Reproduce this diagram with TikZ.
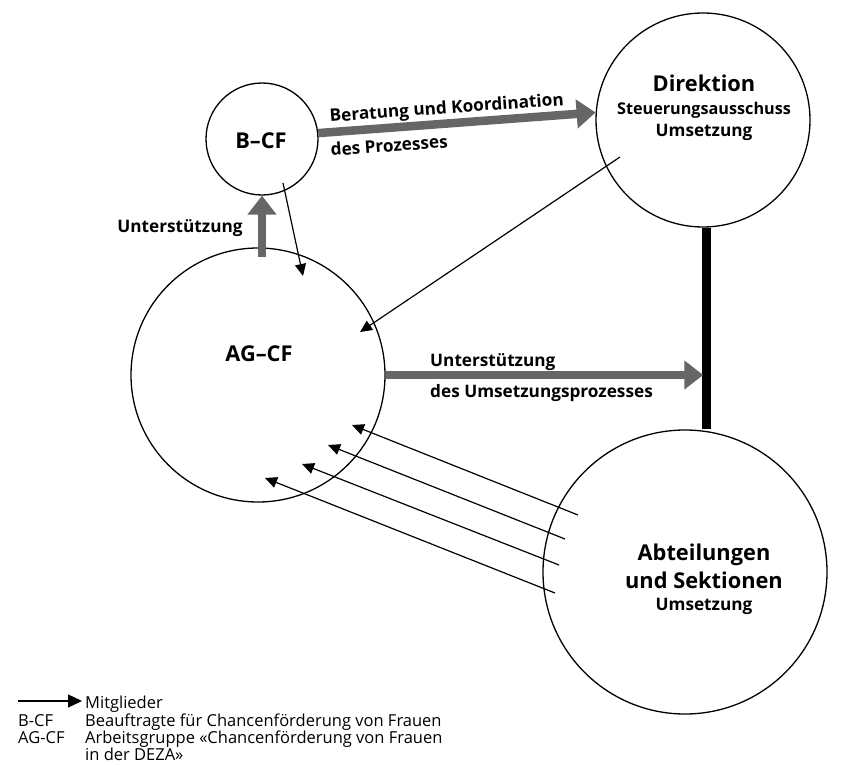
\documentclass[tikz,border=0pt]{standalone}
\usepackage{fontspec}
\setmainfont{Open Sans}
\usetikzlibrary{arrows.meta,calc}
\definecolor{arrgray}{RGB}{102,102,102}
\tikzset{
  circ/.style={circle,draw,line width=1.3pt,inner sep=0pt,minimum size=#1},
  biglbl/.style={font=\fontsize{21.8}{26}\selectfont\bfseries,inner sep=0pt,anchor=base},
  lbl/.style={font=\fontsize{17.2}{20}\selectfont\bfseries,inner sep=0pt,anchor=base},
  leg/.style={font=\fontsize{16.5}{18}\selectfont,inner sep=0pt,anchor=base west},
  grayarrow/.style={draw=arrgray,line width=8.5pt,-{Triangle[length=19pt,width=28pt]}},
  memb/.style={draw,line width=1.2pt,-{Triangle[length=12pt,width=11pt]}},
}
\begin{document}
\begin{tikzpicture}[x=1pt,y=-1pt]
\useasboundingbox (0,0) rectangle (864,765);
% circles
\node[circ=112pt] (bcf) at (262,139) {};
\node[circ=214pt] (dir) at (703,120) {};
\node[circ=254pt] (agcf) at (258,375) {};
\node[circ=284pt] (abt) at (685,572) {};
% texts in circles
\node[biglbl] (tbcf) at (261,148) {B–CF};
\node[biglbl] (tdir) at (704,92) {Direktion};
\node[lbl,font=\fontsize{16.2}{19}\selectfont\bfseries] (tdir2) at (704,114) {Steuerungsausschuss};
\node[lbl] (tdir3) at (704,136) {Umsetzung};
\node[biglbl] (tagcf) at (259,361) {AG–CF};
\node[biglbl] (tabt1) at (704,560) {Abteilungen};
\node[biglbl] (tabt2) at (704,588) {und Sektionen};
\node[lbl] (tabt3) at (704,610) {Umsetzung};
% thick black connection
\coordinate (vtop) at (dir.-88);
\coordinate (vbot) at (vtop |- abt.north);
\draw[line width=9pt] (vtop) -- (vbot);
% gray arrows
\coordinate (gstart) at ($(agcf.center)+(4,-118)$);
\draw[grayarrow] (gstart) -- (bcf.south);
\draw[grayarrow] (bcf.6) -- (dir.176);
\coordinate (hit) at ($(vtop |- agcf.east)+(-3.5,0)$);
\draw[grayarrow] (agcf.east) -- (hit);
% labels of gray arrows
\node[lbl,anchor=base west,rotate=4.1] (tber) at (330,122) {Beratung und Koordination};
\node[lbl,anchor=base west,rotate=4.1] (tpro) at (331,156) {des Prozesses};
\node[lbl] (tunt1) at (180,232) {Unterstützung};
\node[lbl,anchor=base west] (tunt2) at (430,366) {Unterstützung};
\node[lbl,anchor=base west] (tums) at (430,397) {des Umsetzungsprozesses};
% member arrows
\coordinate (m1s) at (283,183);  \coordinate (m1e) at (303,276);
\coordinate (m2s) at (620,157);  \coordinate (m2e) at (360,332);
\coordinate (a1s) at (578,515);  \coordinate (a1e) at (352,425);
\coordinate (a2s) at (565,539);  \coordinate (a2e) at (328,445);
\coordinate (a3s) at (559,565);  \coordinate (a3e) at (302,464);
\coordinate (a4s) at (555,593);  \coordinate (a4e) at (265,478);
\draw[memb] (m1s) -- (m1e);
\draw[memb] (m2s) -- (m2e);
\draw[memb] (a1s) -- (a1e);
\draw[memb] (a2s) -- (a2e);
\draw[memb] (a3s) -- (a3e);
\draw[memb] (a4s) -- (a4e);
% legend
\coordinate (lga) at (18,701);
\coordinate (lgb) at (82,701);
\draw[line width=1.3pt,-{Triangle[length=14pt,width=13pt]}] (lga) -- (lgb);
\node[leg] (lmit) at (85,708) {Mitglieder};
\node[leg] (lb) at (18,726) {B-CF};
\node[leg] (lbt) at (85,726) {Beauftragte für Chancenförderung von Frauen};
\node[leg] (lag) at (18,743) {AG-CF};
\node[leg] (lagt) at (85,743) {Arbeitsgruppe «Chancenförderung von Frauen};
\node[leg] (lagt2) at (85,760) {in der DEZA»};
\end{tikzpicture}
\end{document}
